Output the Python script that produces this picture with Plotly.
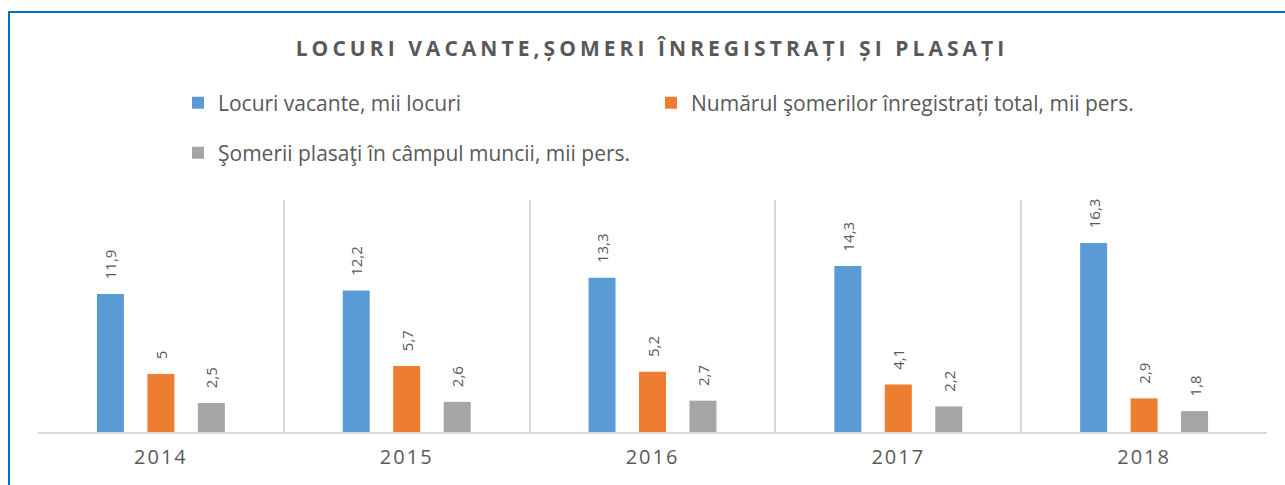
import plotly.graph_objects as go

years = ["2014", "2015", "2016", "2017", "2018"]
locuri_vacante = [11.9, 12.2, 13.3, 14.3, 16.3]
someri_inregistrati = [5, 5.7, 5.2, 4.1, 2.9]
someri_plasati = [2.5, 2.6, 2.7, 2.2, 1.8]

names = [
    "Locuri vacante, mii locuri",
    "Numărul şomerilor înregistrați total, mii pers.",
    "Şomerii plasaţi în câmpul muncii, mii pers.",
]
colors = ["#5B9BD5", "#ED7D31", "#A5A5A5"]
series = [locuri_vacante, someri_inregistrati, someri_plasati]
legends = ["legend", "legend3", "legend2"]

FONT = "Open Sans"
TXT = "#595959"

fig = go.Figure()
for name, vals, col, lg in zip(names, series, colors, legends):
    fig.add_trace(go.Bar(
        x=years, y=vals, name=name, marker_color=col, marker_line_width=0,
        texttemplate="   %{y}", textposition="outside", textangle=-90,
        constraintext="none",
        textfont=dict(family=FONT, size=15, color=TXT),
        cliponaxis=False, legend=lg,
    ))

W, H = 1285, 485
L, R, T, B = 38, 18, 200, 53
pw, ph = W - L - R, H - T - B

def px(xp):
    return (xp - L) / pw

def py(yp):
    return (H - B - yp) / ph

def legend_at(xpix, ypix):
    return dict(
        orientation="h", xref="container", yref="container",
        x=xpix / W, xanchor="left", y=1 - ypix / H, yanchor="middle",
        font=dict(family=FONT, size=21, color=TXT),
        bgcolor="rgba(0,0,0,0)",
    )

fig.update_layout(
    width=W, height=H,
    margin=dict(l=L, r=R, t=T, b=B),
    paper_bgcolor="white", plot_bgcolor="white",
    separators=", ",
    barmode="group", bargap=0.384, bargroupgap=0.465,
    font=dict(family=FONT, color=TXT),
    title=dict(
        text="<b><span style='letter-spacing:4.05px'>LOCURI VACANTE,ȘOMERI ÎNREGISTRAȚI ȘI PLASAȚI</span></b>",
        x=652 / W, xanchor="center", xref="container",
        y=1 - 49 / H, yanchor="middle", yref="container",
        font=dict(family=FONT, size=21, color=TXT),
    ),
    legend=legend_at(178, 103),
    legend3=legend_at(651, 103),
    legend2=legend_at(178, 153),
    xaxis=dict(
        type="category", tickson="boundaries", showgrid=True,
        gridcolor="#D9D9D9", gridwidth=1.5,
        showline=True, linecolor="#D9D9D9", linewidth=2,
        ticks="", tickfont=dict(family=FONT, size=20, color=TXT),
        ticklabelstandoff=6,
        tickvals=years,
        ticktext=[f"<span style='letter-spacing:2px'>{y}</span>" for y in years],
        range=[-0.5, 4.5], fixedrange=True,
    ),
    yaxis=dict(range=[0, 20], showgrid=False, showticklabels=False,
               zeroline=False, showline=False, ticks="", fixedrange=True),
    showlegend=True,
)

# outer chart border (blue), partially cropped like the reference
fig.add_shape(type="rect", xref="paper", yref="paper",
              x0=px(9), x1=px(W + 20), y0=py(H + 20), y1=py(12),
              line=dict(color="#0070C0", width=2), fillcolor="rgba(0,0,0,0)",
              layer="below")

fig.write_html(
    "out.html",
    config={"displayModeBar": False},
    post_script="document.body.style.margin='0';document.body.style.overflow='hidden';",
)
